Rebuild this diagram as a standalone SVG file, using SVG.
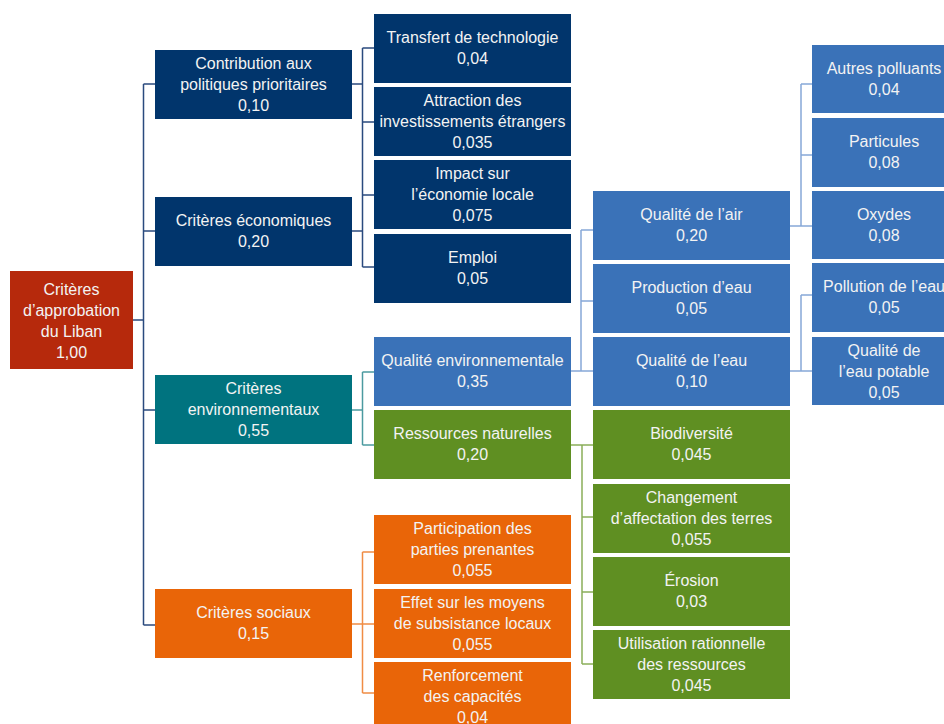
<svg xmlns="http://www.w3.org/2000/svg" width="944" height="724" viewBox="0 0 944 724">
<style>
text{font-family:"Liberation Sans",Arial,sans-serif;font-size:16px;fill:#f3f3f3;text-anchor:middle}
.red{fill:#b6290c}.navy{fill:#01356c}.teal{fill:#00737f}.blue{fill:#3a72b8}.green{fill:#5f8f22}.orange{fill:#e96508}
#connectors path{fill:none;stroke-width:1.5}
.cn{stroke:#2a4a7e}.ct{stroke:#4b9aa0}.cb{stroke:#86a8d8}.cg{stroke:#8aae5a}.co{stroke:#f08c44}
</style>
<rect width="944" height="724" fill="#ffffff"/>
<g id="connectors">
<path class="cn" d="M133,320H143.5M143.5,84V625M143.5,84H155M143.5,231H155M143.5,410H155M143.5,625H155"/>
<path class="cn" d="M352,84H362.5M352,231H362.5M362.5,48V267M362.5,48H374M362.5,122H374M362.5,195H374M362.5,267H374"/>
<path class="ct" d="M352,410H362.5M362.5,372V445M362.5,372H374M362.5,445H374"/>
<path class="co" d="M352,624H362.5M362.5,552V693M362.5,552H374M362.5,624H374M362.5,693H374"/>
<path class="cb" d="M571,371H593M581,230V371M581,230H593M581,301H593"/>
<path class="cg" d="M571,445H593M582,445V664M582,517H593M582,592H593M582,664H593"/>
<path class="cb" d="M790,226H812M801,84V226M801,84H812M801,155H812"/>
<path class="cb" d="M790,371H812M801,295V371M801,295H812"/>
</g>
<g id="root"><rect class="red" x="10" y="271" width="123" height="98"/><text x="71.5" y="295">Critères</text><text x="71.5" y="316">d’approbation</text><text x="71.5" y="337">du Liban</text><text x="71.5" y="358">1,00</text></g>
<g id="contribution"><rect class="navy" x="155" y="50" width="197" height="69"/><text x="253.5" y="69">Contribution aux</text><text x="253.5" y="90">politiques prioritaires</text><text x="253.5" y="111">0,10</text></g>
<g id="economiques"><rect class="navy" x="155" y="197" width="197" height="69"/><text x="253.5" y="226">Critères économiques</text><text x="253.5" y="247">0,20</text></g>
<g id="environnementaux"><rect class="teal" x="155" y="375" width="197" height="69"/><text x="253.5" y="394">Critères</text><text x="253.5" y="415">environnementaux</text><text x="253.5" y="436">0,55</text></g>
<g id="sociaux"><rect class="orange" x="155" y="589" width="197" height="69"/><text x="253.5" y="618">Critères sociaux</text><text x="253.5" y="639">0,15</text></g>
<g id="transfert"><rect class="navy" x="374" y="14" width="197" height="69"/><text x="472.5" y="43">Transfert de technologie</text><text x="472.5" y="64">0,04</text></g>
<g id="attraction"><rect class="navy" x="374" y="87" width="197" height="69"/><text x="472.5" y="106">Attraction des</text><text x="472.5" y="127">investissements étrangers</text><text x="472.5" y="148">0,035</text></g>
<g id="impact"><rect class="navy" x="374" y="160" width="197" height="69"/><text x="472.5" y="179">Impact sur</text><text x="472.5" y="200">l’économie locale</text><text x="472.5" y="221">0,075</text></g>
<g id="emploi"><rect class="navy" x="374" y="234" width="197" height="69"/><text x="472.5" y="263">Emploi</text><text x="472.5" y="284">0,05</text></g>
<g id="qualite-env"><rect class="blue" x="374" y="337" width="197" height="69"/><text x="472.5" y="366">Qualité environnementale</text><text x="472.5" y="387">0,35</text></g>
<g id="ressources"><rect class="green" x="374" y="410" width="197" height="69"/><text x="472.5" y="439">Ressources naturelles</text><text x="472.5" y="460">0,20</text></g>
<g id="participation"><rect class="orange" x="374" y="515" width="197" height="69"/><text x="472.5" y="534">Participation des</text><text x="472.5" y="555">parties prenantes</text><text x="472.5" y="576">0,055</text></g>
<g id="effet"><rect class="orange" x="374" y="589" width="197" height="69"/><text x="472.5" y="608">Effet sur les moyens</text><text x="472.5" y="629">de subsistance locaux</text><text x="472.5" y="650">0,055</text></g>
<g id="renforcement"><rect class="orange" x="374" y="662" width="197" height="69"/><text x="472.5" y="681">Renforcement</text><text x="472.5" y="702">des capacités</text><text x="472.5" y="723">0,04</text></g>
<g id="qualite-air"><rect class="blue" x="593" y="191" width="197" height="69"/><text x="691.5" y="220">Qualité de l’air</text><text x="691.5" y="241">0,20</text></g>
<g id="production-eau"><rect class="blue" x="593" y="264" width="197" height="69"/><text x="691.5" y="293">Production d’eau</text><text x="691.5" y="314">0,05</text></g>
<g id="qualite-eau"><rect class="blue" x="593" y="337" width="197" height="69"/><text x="691.5" y="366">Qualité de l’eau</text><text x="691.5" y="387">0,10</text></g>
<g id="biodiversite"><rect class="green" x="593" y="410" width="197" height="69"/><text x="691.5" y="439">Biodiversité</text><text x="691.5" y="460">0,045</text></g>
<g id="changement"><rect class="green" x="593" y="484" width="197" height="69"/><text x="691.5" y="503">Changement</text><text x="691.5" y="524">d’affectation des terres</text><text x="691.5" y="545">0,055</text></g>
<g id="erosion"><rect class="green" x="593" y="557" width="197" height="69"/><text x="691.5" y="586">Érosion</text><text x="691.5" y="607">0,03</text></g>
<g id="utilisation"><rect class="green" x="593" y="630" width="197" height="69"/><text x="691.5" y="649">Utilisation rationnelle</text><text x="691.5" y="670">des ressources</text><text x="691.5" y="691">0,045</text></g>
<g id="autres-polluants"><rect class="blue" x="812" y="45" width="145" height="68"/><text x="884" y="74">Autres polluants</text><text x="884" y="95">0,04</text></g>
<g id="particules"><rect class="blue" x="812" y="118" width="145" height="69"/><text x="884" y="147">Particules</text><text x="884" y="168">0,08</text></g>
<g id="oxydes"><rect class="blue" x="812" y="191" width="145" height="68"/><text x="884" y="220">Oxydes</text><text x="884" y="241">0,08</text></g>
<g id="pollution-eau"><rect class="blue" x="812" y="263" width="145" height="69"/><text x="884" y="292">Pollution de l’eau</text><text x="884" y="313">0,05</text></g>
<g id="eau-potable"><rect class="blue" x="812" y="337" width="145" height="68"/><text x="884" y="356">Qualité de</text><text x="884" y="377">l’eau potable</text><text x="884" y="398">0,05</text></g>
</svg>
